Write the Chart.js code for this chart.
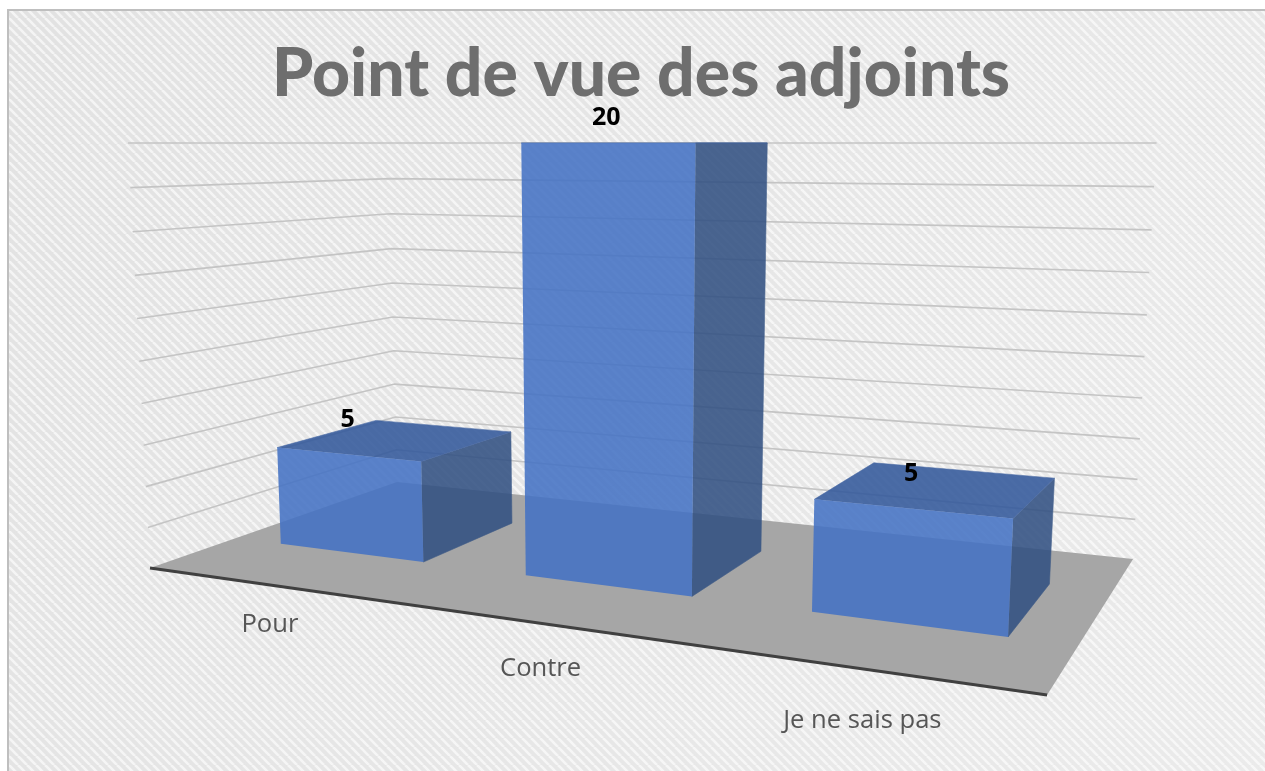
<!DOCTYPE html>
<html lang="fr">
<head>
<meta charset="utf-8">
<title>Point de vue des adjoints</title>
<script src="https://cdn.jsdelivr.net/npm/chart.js@4"></script>
<style>html,body{margin:0;padding:0;background:#fff}canvas{display:block}</style>
</head>
<body>
<canvas id="c" width="1265" height="771"></canvas>
<script>
const categories = ["Pour", "Contre", "Je ne sais pas"];
const adjoints = [5, 20, 5];
const valueTicksStep = 2;
const valueMax = 20;
const titleText = "Point de vue des adjoints";

// Camera of the 3-D look: floor quad as a homography, vertical perspective.
const H = {a:657.6,b:344.5,c:150,d:-31.9,e:32.3,f:568,g:-0.2287,h:0.2455};
const TOP_Y = 143, VP_X = 620, VP_K = 1.1e-4, PERSP = 0.0526;
const DEPTH_FRONT = 0.30, DEPTH_BACK = 0.71, BAR_ALPHA = 0.87;

function project(u, t, w){
  const q = H.g*u + H.h*w + 1;
  const x0 = (H.a*u + H.b*w + H.c)/q, y0 = (H.d*u + H.e*w + H.f)/q;
  const g = t*(1-PERSP)/(1-PERSP*t);
  const y = TOP_Y + (y0-TOP_Y)*(1-g);
  const x = VP_X + (x0-VP_X)*(1+(y0-y)*VP_K);
  return [x,y];
}
function poly(ctx, pts, fill, seam){
  ctx.beginPath();
  pts.forEach((p,i)=> i?ctx.lineTo(p[0],p[1]):ctx.moveTo(p[0],p[1]));
  ctx.closePath();
  ctx.fillStyle = fill;
  ctx.fill();
  if(seam){ctx.strokeStyle = fill; ctx.lineWidth = seam; ctx.stroke();}
}
function hatch(ctx){
  const s = 9, t = document.createElement('canvas');
  t.width = t.height = s;
  const k = t.getContext('2d');
  k.fillStyle = '#e2e2e2'; k.fillRect(0,0,s,s);
  k.strokeStyle = '#f4f4f4'; k.lineWidth = 2.6;
  [-s,0,s].forEach(o=>{k.beginPath();k.moveTo(o,0);k.lineTo(o+s,s);k.stroke();});
  return ctx.createPattern(t,'repeat');
}
const scene = {
  id:'scene',
  beforeDraw(chart){
    const {ctx,width,height} = chart;
    ctx.save();
    ctx.fillStyle = '#fff'; ctx.fillRect(0,0,width,height);
    ctx.fillStyle = hatch(ctx); ctx.fillRect(8,10,width-8,height-10);
    const gr = ctx.createLinearGradient(0,0,width,height);
    gr.addColorStop(0,'rgba(255,255,255,0)');
    gr.addColorStop(1,'rgba(255,255,255,0.3)');
    ctx.fillStyle = gr; ctx.fillRect(8,10,width-8,height-10);
    ctx.strokeStyle = '#bfbfbf'; ctx.lineWidth = 2;
    ctx.beginPath(); ctx.moveTo(8,height); ctx.lineTo(8,10); ctx.lineTo(width,10); ctx.stroke();
    ctx.restore();
  },
  beforeDatasetsDraw(chart){
    const {ctx,chartArea:A,scales:{x,y}} = chart;
    ctx.save();
    // floor
    poly(ctx,[project(0,0,0),project(1,0,0),project(1,0,1),project(0,0,1)],'#a6a6a6');
    // value gridlines on the two walls
    ctx.strokeStyle = '#c4c4c4'; ctx.lineWidth = 1.6;
    y.ticks.forEach(tk=>{
      if(tk.value===0) return;
      const t = (A.bottom-y.getPixelForValue(tk.value))/A.height;
      const a=project(0,t,0), b=project(0,t,1), c=project(1,t,1);
      ctx.beginPath(); ctx.moveTo(a[0],a[1]); ctx.lineTo(b[0],b[1]); ctx.lineTo(c[0],c[1]); ctx.stroke();
    });
    // front edge of the floor
    const p=project(0,0,0), r=project(1,0,0);
    ctx.strokeStyle='#404040'; ctx.lineWidth=3;
    ctx.beginPath(); ctx.moveTo(p[0],p[1]); ctx.lineTo(r[0],r[1]); ctx.stroke();
    // category labels
    ctx.fillStyle='#565656'; ctx.font='25.6px "Open Sans"'; ctx.textAlign='center'; ctx.textBaseline='middle';
    x.ticks.forEach((tk,i)=>{
      const u=(x.getPixelForTick(i)-A.left)/A.width;
      const b=project(u,0,0);
      ctx.fillText(categories[i],b[0],b[1]+0.143*(b[1]-305));
    });
    ctx.restore();
  },
  beforeDatasetDraw(chart,args){
    const {ctx,chartArea:A,width:W,height:Hh} = chart;
    const ds = chart.data.datasets[args.index];
    args.meta.data.forEach(el=>{
      const {x,y,width} = el.getProps(['x','y','width'],true);
      const u0=(x-width/2-A.left)/A.width, u1=(x+width/2-A.left)/A.width;
      const t=(A.bottom-y)/A.height;
      const f=DEPTH_FRONT,b=DEPTH_BACK;
      // one opaque solid on a layer, laid down with one alpha: no seams between faces
      const layer=document.createElement('canvas'); layer.width=W; layer.height=Hh;
      const k=layer.getContext('2d');
      poly(k,[project(u1,0,f),project(u1,0,b),project(u1,t,b),project(u1,t,f)],ds.sideColor,0.6);
      poly(k,[project(u0,t,f),project(u1,t,f),project(u1,t,b),project(u0,t,b)],ds.topColor,0.6);
      poly(k,[project(u0,0,f),project(u1,0,f),project(u1,t,f),project(u0,t,f)],ds.backgroundColor);
      ctx.save();
      ctx.globalAlpha=BAR_ALPHA;
      ctx.drawImage(layer,0,0);
      ctx.restore();
    });
    return false;
  },
  afterDatasetsDraw(chart){
    const {ctx,chartArea:A} = chart;
    const meta = chart.getDatasetMeta(0);
    ctx.save();
    ctx.fillStyle='#000'; ctx.font='bold 25px "Open Sans"'; ctx.textAlign='center'; ctx.textBaseline='middle';
    meta.data.forEach((el,i)=>{
      const {x,y} = el.getProps(['x','y'],true);
      const t=(A.bottom-y)/A.height;
      const q=project((x-A.left)/A.width,t,DEPTH_FRONT);
      ctx.fillText(String(adjoints[i]),q[0],q[1]-(38-12.5*t));
    });
    ctx.restore();
  }
};
new Chart(document.getElementById('c'),{
  type:'bar',
  data:{labels:categories,datasets:[{
    label:'Point de vue',
    data:adjoints,
    backgroundColor:'rgb(68,114,196)',
    sideColor:'rgb(49,80,130)',
    topColor:'rgb(50,88,155)',
    barPercentage:0.6,categoryPercentage:1
  }]},
  options:{
    responsive:false,animation:false,
    layout:{padding:{left:150,right:133,top:35,bottom:76}},
    scales:{
      x:{display:false},
      y:{display:false,min:0,max:valueMax,ticks:{stepSize:valueTicksStep}}
    },
    plugins:{
      legend:{display:false},
      tooltip:{enabled:false},
      title:{display:true,text:titleText,color:'#6e6e6e',fullSize:false,
        font:{family:'Lato',size:66,weight:'900'},padding:{top:0,bottom:8}}
    }
  },
  plugins:[scene]
});
</script>
</body>
</html>
